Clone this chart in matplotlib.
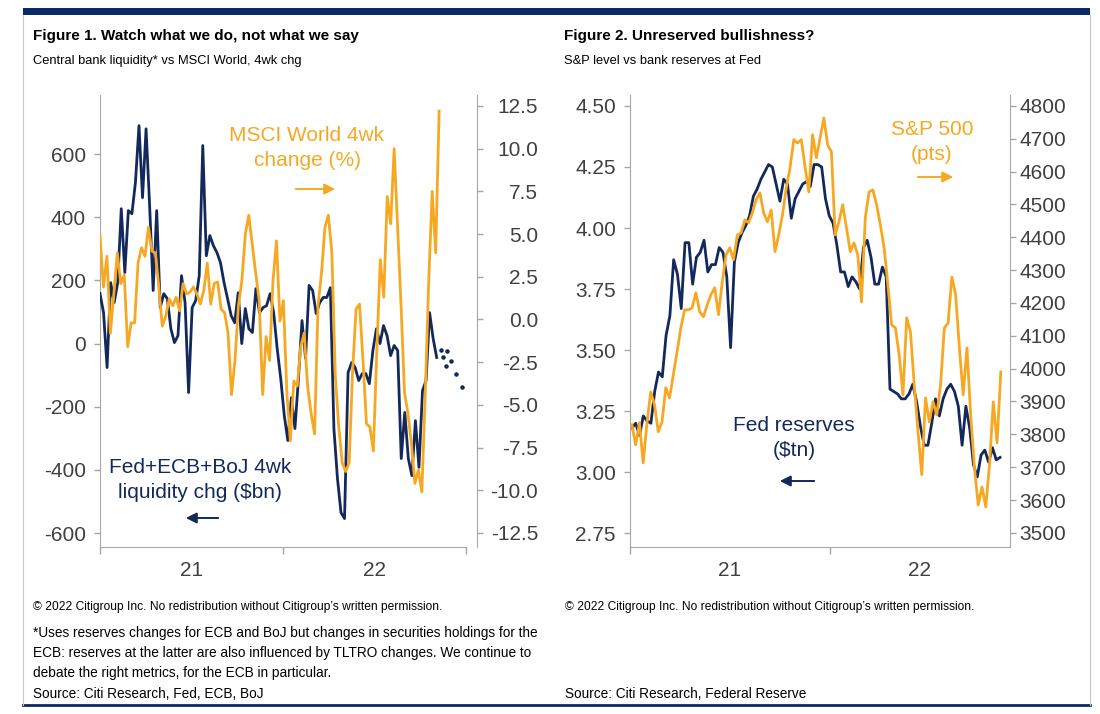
import numpy as np
import matplotlib
matplotlib.use("Agg")
import matplotlib.pyplot as plt
from matplotlib import font_manager
from matplotlib.patches import Rectangle, FancyArrowPatch
from matplotlib.lines import Line2D

# ---- Figure 1 data (weekly, from Jan 2021) ----
liq_chg = [158, 98, -76, 193, 130, 193, 427, 225, 421, 411,
           510, 690, 462, 680, 437, 168, 421, 114, 158, 142,
           47, 3, 25, 215, 130, -155, 114, 136, 215, 627,
           278, 342, 310, 288, 256, 193, 142, 89, 66, 161,
           0, 111, 47, 35, 174, 98, 114, 120, 158, 98,
           -16, -111, -228, -307, -171, -269, -111, 73, -47, 184,
           168, 95, 130, 146, 146, 177, -269, -427, -535, -554,
           -92, -60, -76, -117, -95, -95, -127, -22, 47, 0,
           57, 25, -38, -6, -22, -364, -218, -364, -418, -244,
           -392, -149, -117, 98, 16, -44]
msci_chg = [4.9, 1.9, 3.7, -0.8, 1.5, 3.9, 2.1, 2.6, -1.6, -0.2,
            -0.2, 3.3, 4.2, 3.7, 5.4, 4.0, 3.9, 1.9, -0.4, 0.2,
            1.2, 0.8, 1.3, 0.5, 2.1, 1.5, 1.6, 1.9, 1.5, 0.9,
            1.7, 3.3, 0.9, 2.1, 2.2, 0.6, 0.4, -0.8, -4.4, -2.4,
            0.8, 2.3, 5.0, 6.1, 4.4, 2.7, 1.1, -4.4, -1.0, -2.4,
            2.3, 4.6, -0.1, 1.1, -4.3, -7.1, -3.6, -3.9, -1.6, -0.8,
            -3.9, -5.5, -6.7, 0.8, 2.7, 5.4, 6.1, 3.9, -3.3, -6.3,
            -8.4, -8.9, -8.4, -3.0, 0.6, 0.9, -2.4, -6.1, -6.3, -7.7,
            -1.8, 3.5, 1.3, 7.2, 5.6, 10.0, 5.4, 0.8, -4.3, -5.5,
            -7.3, -9.6, -8.8, -10.1, -4.3, 2.3, 7.5, 3.9, 12.2]
# dotted projection at the end of the liquidity line
proj_wk = [97.2, 97.7, 98.6, 98.9, 100.0, 101.4, 103.1]
proj_val = [-19, -41, -70, -25, -54, -95, -139]

# ---- Figure 2 data (weekly, from Jan 2021) ----
fed_res = [3.18, 3.20, 3.15, 3.23, 3.21, 3.20, 3.33, 3.41, 3.39, 3.56,
           3.64, 3.87, 3.81, 3.67, 3.94, 3.94, 3.77, 3.88, 3.90, 3.95,
           3.82, 3.85, 3.85, 3.92, 3.90, 3.80, 3.51, 3.86, 3.94, 3.98,
           4.01, 4.05, 4.13, 4.16, 4.20, 4.23, 4.26, 4.25, 4.18, 4.11,
           4.20, 4.18, 4.04, 4.12, 4.15, 4.18, 4.19, 4.17, 4.26, 4.26,
           4.25, 4.12, 4.05, 4.02, 3.93, 3.82, 3.82, 3.76, 3.80, 3.78,
           3.75, 3.92, 3.95, 3.88, 3.77, 3.77, 3.84, 3.80, 3.34, 3.33,
           3.32, 3.30, 3.30, 3.32, 3.36, 3.29, 3.19, 3.11, 3.11, 3.20,
           3.30, 3.23, 3.30, 3.34, 3.36, 3.33, 3.27, 3.11, 3.27, 3.18,
           3.03, 2.98, 3.07, 3.09, 3.04, 3.10, 3.05, 3.06]
spx = [3829, 3768, 3835, 3713, 3835, 3929, 3890, 3808, 3838, 3942,
       3911, 3981, 4051, 4124, 4179, 4179, 4185, 4231, 4173, 4158,
       4194, 4225, 4246, 4164, 4264, 4346, 4368, 4331, 4407, 4413,
       4453, 4444, 4474, 4514, 4535, 4474, 4447, 4483, 4356, 4407,
       4468, 4550, 4611, 4697, 4687, 4697, 4614, 4538, 4712, 4642,
       4703, 4763, 4681, 4660, 4407, 4447, 4499, 4429, 4356, 4383,
       4346, 4203, 4459, 4538, 4544, 4499, 4438, 4368, 4255, 4133,
       4124, 4042, 3920, 4155, 4112, 3951, 3808, 3677, 3911, 3838,
       3899, 3859, 3951, 4124, 4139, 4279, 4225, 4063, 3920, 4063,
       3859, 3698, 3585, 3640, 3579, 3707, 3899, 3774, 3990]

year_labels = ["21", "22"]

NAVY = "#13295b"
ORANGE = "#f7a823"
GRAY = "#a6a6a6"
TXT = "#404040"
BAR = "#0a2a66"

names = {f.name for f in font_manager.fontManager.ttflist}
NARROW = "Liberation Sans Narrow" if "Liberation Sans Narrow" in names else "Liberation Sans"
nsc = 1.0 if NARROW == "Liberation Sans Narrow" else 0.88
plt.rcParams["font.family"] = ["Liberation Sans", "DejaVu Sans"]

W, H = 1100, 714
fig = plt.figure(figsize=(11, 7.14), dpi=100)


def fx(p):
    return p / W


def fy(p):
    return 1 - p / H


def px2pt(p):
    return p * 72 / 100


def style_axes(ax, axr, xmax, yl, yl_r, lticks, llabs, rticks, rlabs, rpad, r_offset, x_label_pos):
    ax.set_xlim(0, xmax)
    ax.set_ylim(*yl)
    axr.set_ylim(*yl_r)
    for s in ["top", "right"]:
        ax.spines[s].set_visible(False)
    for s in ["top", "left", "bottom"]:
        axr.spines[s].set_visible(False)
    ax.spines["left"].set_color(GRAY)
    ax.spines["bottom"].set_color(GRAY)
    axr.spines["right"].set_color(GRAY)
    if r_offset:
        axr.spines["right"].set_position(("outward", px2pt(r_offset)))
    ax.set_yticks(lticks, labels=llabs)
    axr.set_yticks(rticks, labels=rlabs)
    ax.tick_params(axis="y", direction="out", length=px2pt(6), width=1, color=GRAY,
                   labelsize=15, labelcolor=TXT, pad=px2pt(8))
    axr.tick_params(axis="y", direction="out", length=px2pt(6), width=1, color=GRAY,
                    labelsize=15, labelcolor=TXT, pad=px2pt(rpad))
    if rpad > 20:
        for lb in axr.get_yticklabels():
            lb.set_horizontalalignment("right")
    yr = 52.18
    ax.set_xticks([t for t in [0, yr, 2 * yr] if t <= xmax + 0.01])
    ax.set_xticklabels([])
    ax.set_xticks(x_label_pos, minor=True)
    ax.set_xticklabels(year_labels, minor=True)
    ax.tick_params(axis="x", which="major", direction="out", length=px2pt(7), width=1, color=GRAY)
    ax.tick_params(axis="x", which="minor", length=0, labelsize=15, labelcolor=TXT, pad=px2pt(14))
    ax.patch.set_visible(False)


# ---------------- Figure 1 ----------------
ax1 = fig.add_axes([fx(100), fy(547), fx(466) - fx(100), fy(95) - fy(547)])
ax1b = ax1.twinx()
wk_liq = np.linspace(0, 96, len(liq_chg))
wk_msci = np.linspace(0, 96.7, len(msci_chg))
ax1.plot(wk_liq, liq_chg, color=NAVY, lw=2.0, zorder=3)
ax1.scatter(proj_wk, proj_val, s=5, color=NAVY, zorder=3)
ax1b.plot(wk_msci, msci_chg, color=ORANGE, lw=2.0)
style_axes(ax1, ax1b, 104.36, (-644, 787), (-13.32, 13.14),
           np.arange(-600, 601, 200), [f"{v}" for v in range(-600, 601, 200)],
           np.arange(-12.5, 12.6, 2.5), [f"{v:.1f}" for v in np.arange(-12.5, 12.6, 2.5)],
           rpad=55, r_offset=11, x_label_pos=[26.1, 78.3])

# ---------------- Figure 2 ----------------
ax2 = fig.add_axes([fx(630), fy(547), fx(1010) - fx(630), fy(95) - fy(547)])
ax2b = ax2.twinx()
wk_res = np.linspace(0.5, 96.6, len(fed_res))
wk_spx = np.linspace(0.5, 96.8, len(spx))
ax2.plot(wk_res, fed_res, color=NAVY, lw=2.0)
ax2b.plot(wk_spx, spx, color=ORANGE, lw=2.0)
style_axes(ax2, ax2b, 99.2, (2.693, 4.545), (3457, 4833),
           np.arange(2.75, 4.51, 0.25), [f"{v:.2f}" for v in np.arange(2.75, 4.51, 0.25)],
           np.arange(3500, 4801, 100), [f"{v}" for v in range(3500, 4801, 100)],
           rpad=3, r_offset=0, x_label_pos=[26.1, 75.7])

# ---------------- annotations ----------------
def label(x, y, s, c):
    fig.text(fx(x), fy(y), s, color=c, fontsize=15, ha="center", va="center", linespacing=1.42)


def arrow(x0, x1, y, c):
    fig.add_artist(FancyArrowPatch((fx(x0), fy(y)), (fx(x1), fy(y)), transform=fig.transFigure,
                                   arrowstyle="-|>", mutation_scale=16, lw=1.4, color=c))


label(307, 148, "MSCI World 4wk\nchange (%)", ORANGE)
arrow(293, 338, 189, ORANGE)
label(200, 480, "Fed+ECB+BoJ 4wk\nliquidity chg ($bn)", NAVY)
arrow(221, 183, 518, NAVY)
label(932, 142, "S&P 500\n(pts)", ORANGE)
arrow(915, 956, 177, ORANGE)
label(794, 438, "Fed reserves\n($tn)", NAVY)
arrow(817, 777, 481, NAVY)

# ---------------- titles and footers ----------------
def ntext(x, y, s, size, bold=False):
    fig.text(fx(x), fy(y), s, fontsize=size * nsc, family=[NARROW, "DejaVu Sans"],
             fontweight="bold" if bold else "normal", ha="left", va="center", color="black")


ntext(33, 36, "Figure 1. Watch what we do, not what we say", 12.5, bold=True)
ntext(33, 61, "Central bank liquidity* vs MSCI World, 4wk chg", 10.5)
ntext(564, 36, "Figure 2. Unreserved bullishness?", 12.5, bold=True)
ntext(564, 61, "S&P level vs bank reserves at Fed", 10.5)

cr = "\u00a9 2022 Citigroup Inc. No redistribution without Citigroup\u2019s written permission."
ntext(33, 607, cr, 9.8)
ntext(565, 607, cr, 9.8)
ntext(33, 633, "*Uses reserves changes for ECB and BoJ but changes in securities holdings for the", 11.1)
ntext(33, 653, "ECB: reserves at the latter are also influenced by TLTRO changes. We continue to", 11.1)
ntext(33, 673, "debate the right metrics, for the ECB in particular.", 11.1)
ntext(33, 694, "Source: Citi Research, Fed, ECB, BoJ", 11.1)
ntext(565, 694, "Source: Citi Research, Federal Reserve", 11.1)

# ---------------- frame ----------------
fig.add_artist(Rectangle((fx(23), fy(15)), fx(1090) - fx(23), 7 / H, transform=fig.transFigure,
                         color=BAR, lw=0))
fig.add_artist(Line2D([fx(23), fx(1090)], [fy(705), fy(705)], transform=fig.transFigure,
                      color=BAR, lw=2))
for xx in (23, 1090):
    fig.add_artist(Line2D([fx(xx), fx(xx)], [fy(15), fy(705)], transform=fig.transFigure,
                          color="#c8c8c8", lw=0.8))

fig.savefig("out.png", dpi=100)
